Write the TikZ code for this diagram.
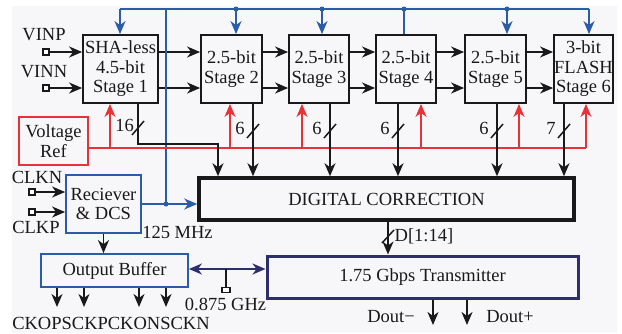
\documentclass[tikz,border=0pt]{standalone}
\usepackage{fontspec}
\setmainfont{Liberation Serif}
\usetikzlibrary{arrows.meta,calc}
\definecolor{myblue}{RGB}{42,92,170}
\definecolor{myred}{RGB}{232,50,55}
\definecolor{navy}{RGB}{46,46,108}
\definecolor{ink}{RGB}{25,25,25}
\definecolor{bg}{RGB}{247,247,249}
\begin{document}
\begin{tikzpicture}[x=1pt,y=-1pt,
  every node/.style={font=\fontsize{18.5}{19.5}\selectfont, text=ink, inner sep=0pt, align=center},
  box/.style={draw=ink, line width=1.8pt},
  bbox/.style={draw=myblue, line width=1.8pt},
  rbox/.style={draw=myred, line width=1.8pt},
  term/.style={draw=ink, line width=1.1pt, fill=white, minimum width=6pt, minimum height=6pt},
  arr/.style={draw=ink, line width=1.6pt, -{Stealth[length=13pt,width=11pt,inset=4pt]}},
  bline/.style={draw=myblue, line width=1.8pt},
  barr/.style={bline, -{Stealth[length=13pt,width=11pt,inset=4pt]}},
  rline/.style={draw=myred, line width=1.8pt},
  rarr/.style={rline, -{Stealth[length=13pt,width=11pt,inset=4pt]}},
  dot/.style={circle, fill=myblue, minimum size=5pt},
  slash/.style={draw=ink, line width=1.5pt}
]
\useasboundingbox (0,0) rectangle (622,333);
\fill[bg] (12,6) rectangle (617,333);

% stages
\node[box, minimum width=75pt, minimum height=68pt] (sha) at (120.5,69) {SHA-less\\4.5-bit\\Stage 1};
\node[box, minimum width=61pt, minimum height=68pt] (s2) at (231.5,69) {2.5-bit\\Stage 2};
\node[box, minimum width=60pt, minimum height=68pt] (s3) at (319,69) {2.5-bit\\Stage 3};
\node[box, minimum width=60pt, minimum height=68pt] (s4) at (406,69) {2.5-bit\\Stage 4};
\node[box, minimum width=61pt, minimum height=68pt] (s5) at (495.5,69) {2.5-bit\\Stage 5};
\node[box, minimum width=59pt, minimum height=68pt] (s6) at (583.5,69) {3-bit\\FLASH\\Stage 6};

\node[rbox, minimum width=69pt, minimum height=48pt] (vref) at (53.5,141) {Voltage\\Ref};
\node[bbox, minimum width=75pt, minimum height=58pt] (rx) at (103.5,204) {Reciever\\\& DCS};
\node[draw=ink, line width=3.5pt, minimum width=375pt, minimum height=42pt] (dc) at (386.5,199) {DIGITAL CORRECTION};
\node[bbox, minimum width=147pt, minimum height=33pt] (ob) at (114.5,270.5) {Output Buffer};
\node[draw=navy, line width=3pt, minimum width=311pt, minimum height=42pt] (tx) at (422.5,277) {1.75 Gbps Transmitter};

% inputs
\node (vinpl) at (44,35) {VINP};
\node (vinnl) at (44,72) {VINN};
\node[term] (tp) at (46,52) {};
\node[term] (tn) at (46,88) {};
\draw[arr] (tp) -- (sha.west |- tp);
\draw[arr] (tn) -- (sha.west |- tn);

\node (clknl) at (37,177) {CLKN};
\node (clkpl) at (36,227) {CLKP};
\node[term] (cn) at (32,192) {};
\node[term] (cp) at (32,212) {};
\draw[arr] (cn) -- (rx.west |- cn);
\draw[arr] (cp) -- (rx.west |- cp);

% stage to stage
\foreach \a/\b in {sha/s2, s2/s3, s3/s4, s4/s5, s5/s6} {
  \draw[arr] ([yshift=17pt]\a.east) -- ([yshift=17pt]\b.west);
  \draw[arr] ([yshift=-19pt]\a.east) -- ([yshift=-19pt]\b.west);
}

% blue clock distribution
\coordinate (bj) at (166,204);
\coordinate (bt) at (166,9);
\coordinate (b1) at (120,9);
\coordinate (b2) at (236,9);
\coordinate (b3) at (322,9);
\coordinate (b4) at (404,9);
\coordinate (b5) at (507,9);
\coordinate (b6) at (589,9);
\draw[barr] (rx.east |- bj) -- (dc.west |- bj);
\draw[bline] (bj) -- (bt);
\draw[bline] (b1) -- (b6);
\draw[barr] (b1) -- (b1 |- sha.north);
\draw[barr] (b2) -- (b2 |- s2.north);
\draw[barr] (b3) -- (b3 |- s3.north);
\draw[bline] (b4) -- (b4 |- s4.north);
\draw[barr] (b5) -- (b5 |- s5.north);
\draw[barr] (b6) -- (b6 |- s6.north);
\foreach \p in {bj,b2,b3,b4,b5} \node[dot] at (\p) {};
\node (mhz) at (177.5,232) {125 MHz};

% red reference bus
\coordinate (rbus) at ([yshift=-7pt]vref.east);
\coordinate (ra1) at ([xshift=-10.5pt]sha.south);
\coordinate (ra2) at ([xshift=-1.5pt]s2.south);
\coordinate (ra3) at ([xshift=-17pt]s3.south);
\coordinate (ra4) at ([xshift=15pt]s4.south);
\coordinate (ra5) at ([xshift=23.5pt]s5.south);
\coordinate (ra6) at ([xshift=2.5pt]s6.south);
\draw[rline] (rbus) -- (rbus -| ra6);
\foreach \p in {ra1,ra2,ra3,ra4,ra5,ra6} \draw[rarr] (\p |- rbus) -- (\p);

% black digital outputs
\coordinate (o1) at ([xshift=17.5pt]sha.south);
\coordinate (o1b) at (o1 |- 0,144);
\coordinate (o1c) at (218,144);
\draw[arr] (o1) -- (o1b) -- (o1c) -- (o1c |- dc.north);
\draw[slash] ([xshift=-6pt,yshift=-7pt]o1 |- 0,128) -- ([xshift=6pt,yshift=7pt]o1 |- 0,128);
\node (n16) at (124.5,125) {16};

\coordinate (o2) at ([xshift=21.5pt]s2.south);
\coordinate (o3) at ([xshift=11pt]s3.south);
\coordinate (o4) at ([xshift=-8pt]s4.south);
\coordinate (o5) at ([xshift=1.5pt]s5.south);
\coordinate (o6) at ([xshift=-19.5pt]s6.south);
\foreach \p/\t in {o2/6,o3/6,o4/6,o5/6,o6/7} {
  \draw[arr] (\p) -- (\p |- dc.north);
  \draw[slash] ([xshift=-6pt,yshift=-7pt]\p |- 0,131) -- ([xshift=6pt,yshift=7pt]\p |- 0,131);
  \node at ([xshift=-13pt]\p |- 0,128) {\t};
}

% correction to transmitter
\coordinate (dq) at (388,220);
\draw[arr] (dq |- dc.south) -- (dq |- tx.north);
\draw[slash] (382,243) -- (394,230);
\node (dlbl) at (424,236) {D[1:14]};

% receiver to output buffer
\draw[arr] (rx.south) -- (rx.south |- ob.north);

% output buffer clocks
\foreach \x in {57,84,139,166} \draw[arr] (\x,0 |- ob.south) -- (\x,307);
\node (cko) at (111,323) {CKOPSCKPCKONSCKN};

% buffer <-> transmitter
\draw[draw=navy, line width=1.8pt, {Stealth[length=13pt,width=11pt,inset=4pt]}-{Stealth[length=13pt,width=11pt,inset=4pt]}] (ob.east |- 0,269) -- (tx.west |- 0,269);
\node[term, minimum width=8pt, minimum height=5pt] (gt) at (226,290) {};
\draw[draw=ink, line width=1.5pt] (226,269) -- (gt.north);
\node (ghz) at (225.5,304) {0.875 GHz};

% transmitter outputs
\coordinate (dm) at (433,325);
\coordinate (dp) at (467,325);
\draw[arr] (dm |- tx.south) -- (dm);
\draw[arr] (dp |- tx.south) -- (dp);
\node (doutm) at (391,317) {Dout−};
\node (doutp) at (510,317) {Dout+};
\end{tikzpicture}
\end{document}
